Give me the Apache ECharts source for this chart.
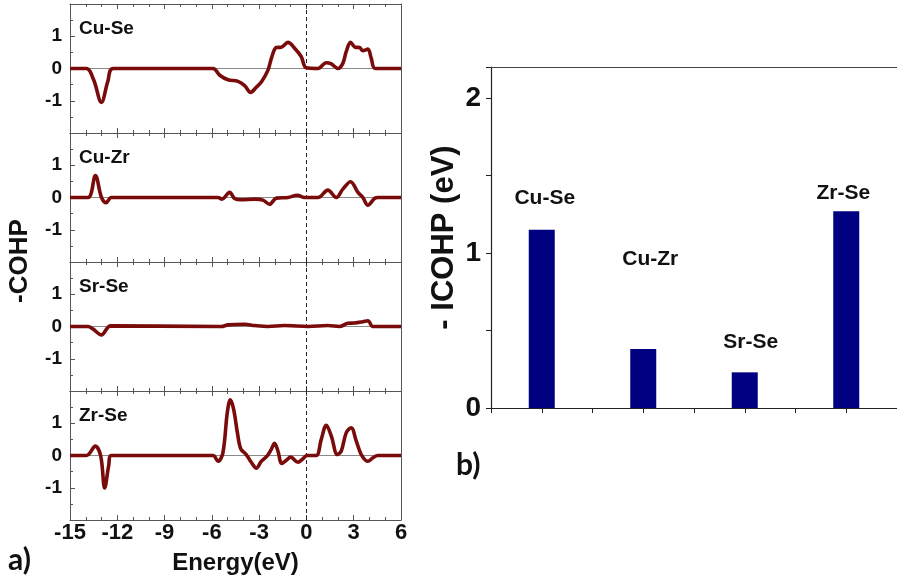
<!DOCTYPE html>
<html>
<head>
<meta charset="utf-8">
<script src="https://cdn.jsdelivr.net/npm/echarts@6/dist/echarts.min.js"></script>
<style>
html,body{margin:0;padding:0;background:#fff;}
#c{width:897px;height:587px;}
</style>
</head>
<body>
<div id="c"></div>
<script>
// ---- Data (panel a: -COHP vs Energy) ----
const bondNames = ['Cu-Se', 'Cu-Zr', 'Sr-Se', 'Zr-Se'];
const cuSe = [[-15,0],[-13.96,0],[-13.5,-0.35],[-13.01,-1.05],[-12.6,-0.4],[-12.27,0],[-5.93,0],[-5.5,-0.21],[-4.98,-0.35],[-4.34,-0.4],[-3.92,-0.53],[-3.54,-0.74],[-3.18,-0.58],[-2.86,-0.42],[-2.44,-0.05],[-2.19,0.37],[-1.91,0.65],[-1.6,0.66],[-1.17,0.81],[-0.75,0.63],[-0.33,0.37],[-0.01,0.02],[0.73,0],[1.26,0.18],[1.58,0.14],[2.0,0],[2.31,0.16],[2.53,0.53],[2.8,0.81],[3.1,0.66],[3.37,0.65],[3.58,0.55],[3.9,0.6],[4.11,0.32],[4.37,0],[6,0]];
const cuZr = [[-15,0],[-13.86,0],[-13.39,0.68],[-13.0,0],[-12.7,-0.16],[-12.38,0],[-5.61,0],[-5.36,-0.05],[-4.87,0.16],[-4.56,-0.03],[-4.13,-0.07],[-3.29,-0.05],[-2.76,-0.08],[-2.34,-0.21],[-1.91,-0.02],[-1.17,0],[-0.58,0.07],[-0.12,0],[0.73,0],[1.36,0.23],[1.89,0],[2.31,0.26],[2.8,0.49],[3.27,0.16],[3.58,0],[3.9,-0.24],[4.32,-0.03],[4.53,0],[6,0]];
const srSe = [[-15,0],[-13.86,0],[-13.54,-0.08],[-13.01,-0.26],[-12.42,0.02],[-5.4,0],[-4.98,0.05],[-3.92,0.07],[-3.29,0.03],[-2.44,0],[-1.38,0.03],[0.1,0],[1.36,0.03],[2.1,0],[2.63,0.1],[3.05,0.11],[3.58,0.15],[3.9,0.18],[4.22,0],[6,0]];
const zrSe = [[-15,0],[-13.96,0],[-13.39,0.29],[-13.05,-0.02],[-12.8,-1.01],[-12.55,-0.33],[-12.38,0],[-5.93,0],[-5.61,-0.18],[-5.3,0.08],[-5.02,1.33],[-4.83,1.73],[-4.62,1.44],[-4.38,0.71],[-4.17,0.21],[-3.82,0.03],[-3.5,-0.21],[-3.18,-0.39],[-2.86,-0.18],[-2.5,-0.02],[-2.23,0.19],[-2.02,0.38],[-1.81,0.14],[-1.56,-0.25],[-1.28,-0.15],[-1.0,-0.05],[-0.54,-0.21],[-0.22,-0.1],[0.05,0],[0.62,0],[0.94,0.5],[1.26,0.94],[1.58,0.6],[1.96,0.03],[2.21,0.14],[2.53,0.71],[2.84,0.86],[3.16,0.45],[3.48,0.03],[3.9,-0.18],[4.22,-0.07],[4.53,0],[6,0]];
const cohpSeries = [cuSe, cuZr, srSe, zrSe];
const energyMin = -15, energyMax = 6, energyStep = 3;
const cohpMin = -2, cohpMax = 2;

// ---- Data (panel b: -ICOHP) ----
const icohpBonds = ['Cu-Se', 'Cu-Zr', 'Sr-Se', 'Zr-Se'];
const icohpValues = [1.15, 0.38, 0.23, 1.27];
const icohpMax = 2.2;

const LINE = '#7a0b0b';
const AX = '#555';
const FONT = 'Arial, "Liberation Sans", sans-serif';

const chart = echarts.init(document.getElementById('c'), null, {renderer: 'canvas'});

const panelTops = [4, 133, 262, 391];
const grids = [], xAxes = [], yAxes = [], series = [], graphics = [];

panelTops.forEach((top, i) => {
  grids.push({left: 70, width: 331, top: top, height: 129});
  const isBottom = i === panelTops.length - 1;
  xAxes.push({
    type: 'value', gridIndex: i, min: energyMin, max: energyMax, interval: energyStep,
    position: 'bottom',
    axisLine: {show: true, onZero: false, lineStyle: {color: AX, width: 1}},
    axisTick: {show: true, inside: true, length: 5, lineStyle: {color: AX}},
    minorTick: {show: true, splitNumber: 3, length: 3, lineStyle: {color: AX}},
    splitLine: {show: false},
    axisLabel: {show: isBottom, margin: 2, color: '#111', fontSize: 22, fontWeight: 'bold', fontFamily: FONT},
    name: isBottom ? 'Energy(eV)' : '', nameLocation: 'middle', nameGap: 31,
    nameTextStyle: {color: '#111', fontSize: 24, fontWeight: 'bold', fontFamily: FONT}
  });
  xAxes.push({
    type: 'value', gridIndex: i, min: energyMin, max: energyMax, interval: energyStep,
    position: 'top',
    axisLine: {show: true, onZero: false, lineStyle: {color: AX, width: 1}},
    axisTick: {show: true, inside: true, length: 5, lineStyle: {color: AX}},
    minorTick: {show: true, splitNumber: 3, length: 3, lineStyle: {color: AX}},
    splitLine: {show: false}, axisLabel: {show: false}
  });
  yAxes.push({
    type: 'value', gridIndex: i, min: cohpMin, max: cohpMax, interval: 1,
    position: 'left',
    axisLine: {show: true, onZero: false, lineStyle: {color: AX, width: 1}},
    axisTick: {show: true, inside: true, length: 5, lineStyle: {color: AX}},
    minorTick: {show: true, splitNumber: 2, length: 3, lineStyle: {color: AX}},
    splitLine: {show: false},
    axisLabel: {margin: 8, color: '#111', fontSize: 19, fontWeight: 'bold', fontFamily: FONT,
      formatter: v => (Math.abs(v) >= 2 ? '' : String(v))}
  });
  yAxes.push({
    type: 'value', gridIndex: i, min: cohpMin, max: cohpMax, interval: 1,
    position: 'right',
    axisLine: {show: true, onZero: false, lineStyle: {color: AX, width: 1}},
    axisTick: {show: false}, splitLine: {show: false}, axisLabel: {show: false}
  });
  series.push({
    type: 'line', xAxisIndex: 2 * i, yAxisIndex: 2 * i, data: [], z: 1, silent: true,
    markLine: {
      silent: true, symbol: 'none', label: {show: false}, animation: false, z: 1,
      data: [
        {yAxis: 0, lineStyle: {color: '#8a8a8a', width: 1, type: 'solid'}},
        {xAxis: 0, lineStyle: {color: '#222', width: 1, type: [4, 3]}}
      ]
    }
  });
  series.push({
    type: 'line', name: bondNames[i], xAxisIndex: 2 * i, yAxisIndex: 2 * i,
    data: cohpSeries[i], showSymbol: false, smooth: 0.35, z: 3,
    lineStyle: {color: LINE, width: 3.6}, animation: false
  });
  graphics.push({
    type: 'text', left: 79, top: top + 15,
    style: {text: bondNames[i], fill: '#111', font: 'bold 19px ' + FONT}
  });
});

// Bar chart (panel b)
const barGridIndex = grids.length;
grids.push({left: 491, width: 417, top: 67, height: 341});
const barX = xAxes.length;
xAxes.push({
  type: 'value', gridIndex: barGridIndex, min: -0.5, max: icohpBonds.length - 0.5, interval: 0.5,
  position: 'bottom',
  axisLine: {show: true, onZero: false, lineStyle: {color: '#222', width: 1.2}},
  axisTick: {show: true, inside: false, length: 5, lineStyle: {color: '#222'}},
  splitLine: {show: false}, axisLabel: {show: false}
});
xAxes.push({
  type: 'value', gridIndex: barGridIndex, min: -0.5, max: icohpBonds.length - 0.5,
  position: 'top',
  axisLine: {show: true, onZero: false, lineStyle: {color: '#444', width: 1.2}},
  axisTick: {show: false}, splitLine: {show: false}, axisLabel: {show: false}
});
const barY = yAxes.length;
yAxes.push({
  type: 'value', gridIndex: barGridIndex, min: 0, max: icohpMax, interval: 0.5,
  position: 'left',
  axisLine: {show: true, onZero: false, lineStyle: {color: '#222', width: 1.2}},
  axisTick: {show: true, inside: false, length: 5, lineStyle: {color: '#222'}},
  splitLine: {show: false},
  axisLabel: {margin: 10, color: '#111', fontSize: 28, fontWeight: 'bold', fontFamily: FONT,
    formatter: v => (Math.abs(v - Math.round(v)) < 1e-9 ? String(Math.round(v)) : '')},
  name: '- ICOHP (eV)', nameLocation: 'middle', nameGap: 31, nameRotate: 90,
  nameTextStyle: {color: '#111', fontSize: 31, fontWeight: 'bold', fontFamily: FONT}
});
const labelNudge = [[3, 21], [7, 79], [6, 20], [-3, 7]];
series.push({
  type: 'bar', xAxisIndex: barX, yAxisIndex: barY, barWidth: 26, animation: false,
  data: icohpValues.map((v, i) => ({
    value: [i, v],
    label: {show: true, position: 'top', distance: labelNudge[i][1], offset: [labelNudge[i][0], 0],
      formatter: () => icohpBonds[i], color: '#111', fontSize: 21, fontWeight: 'bold', fontFamily: FONT}
  })),
  itemStyle: {color: '#000080'}
});

graphics.push({
  type: 'text', x: 20, y: 261, rotation: Math.PI / 2,
  style: {text: '-COHP', fill: '#111', font: 'bold 26px ' + FONT, align: 'center', verticalAlign: 'middle'}
});
graphics.push({
  type: 'text', x: 8, y: 545,
  style: {text: 'a)', fill: '#111', font: 'bold 30px Lato, "Open Sans", sans-serif'}
});
graphics.push({
  type: 'text', x: 456, y: 450,
  style: {text: 'b)', fill: '#111', font: 'bold 30px Lato, "Open Sans", sans-serif'}
});

chart.setOption({
  animation: false,
  backgroundColor: '#fff',
  grid: grids,
  xAxis: xAxes,
  yAxis: yAxes,
  series: series,
  graphic: graphics
});
</script>
</body>
</html>
